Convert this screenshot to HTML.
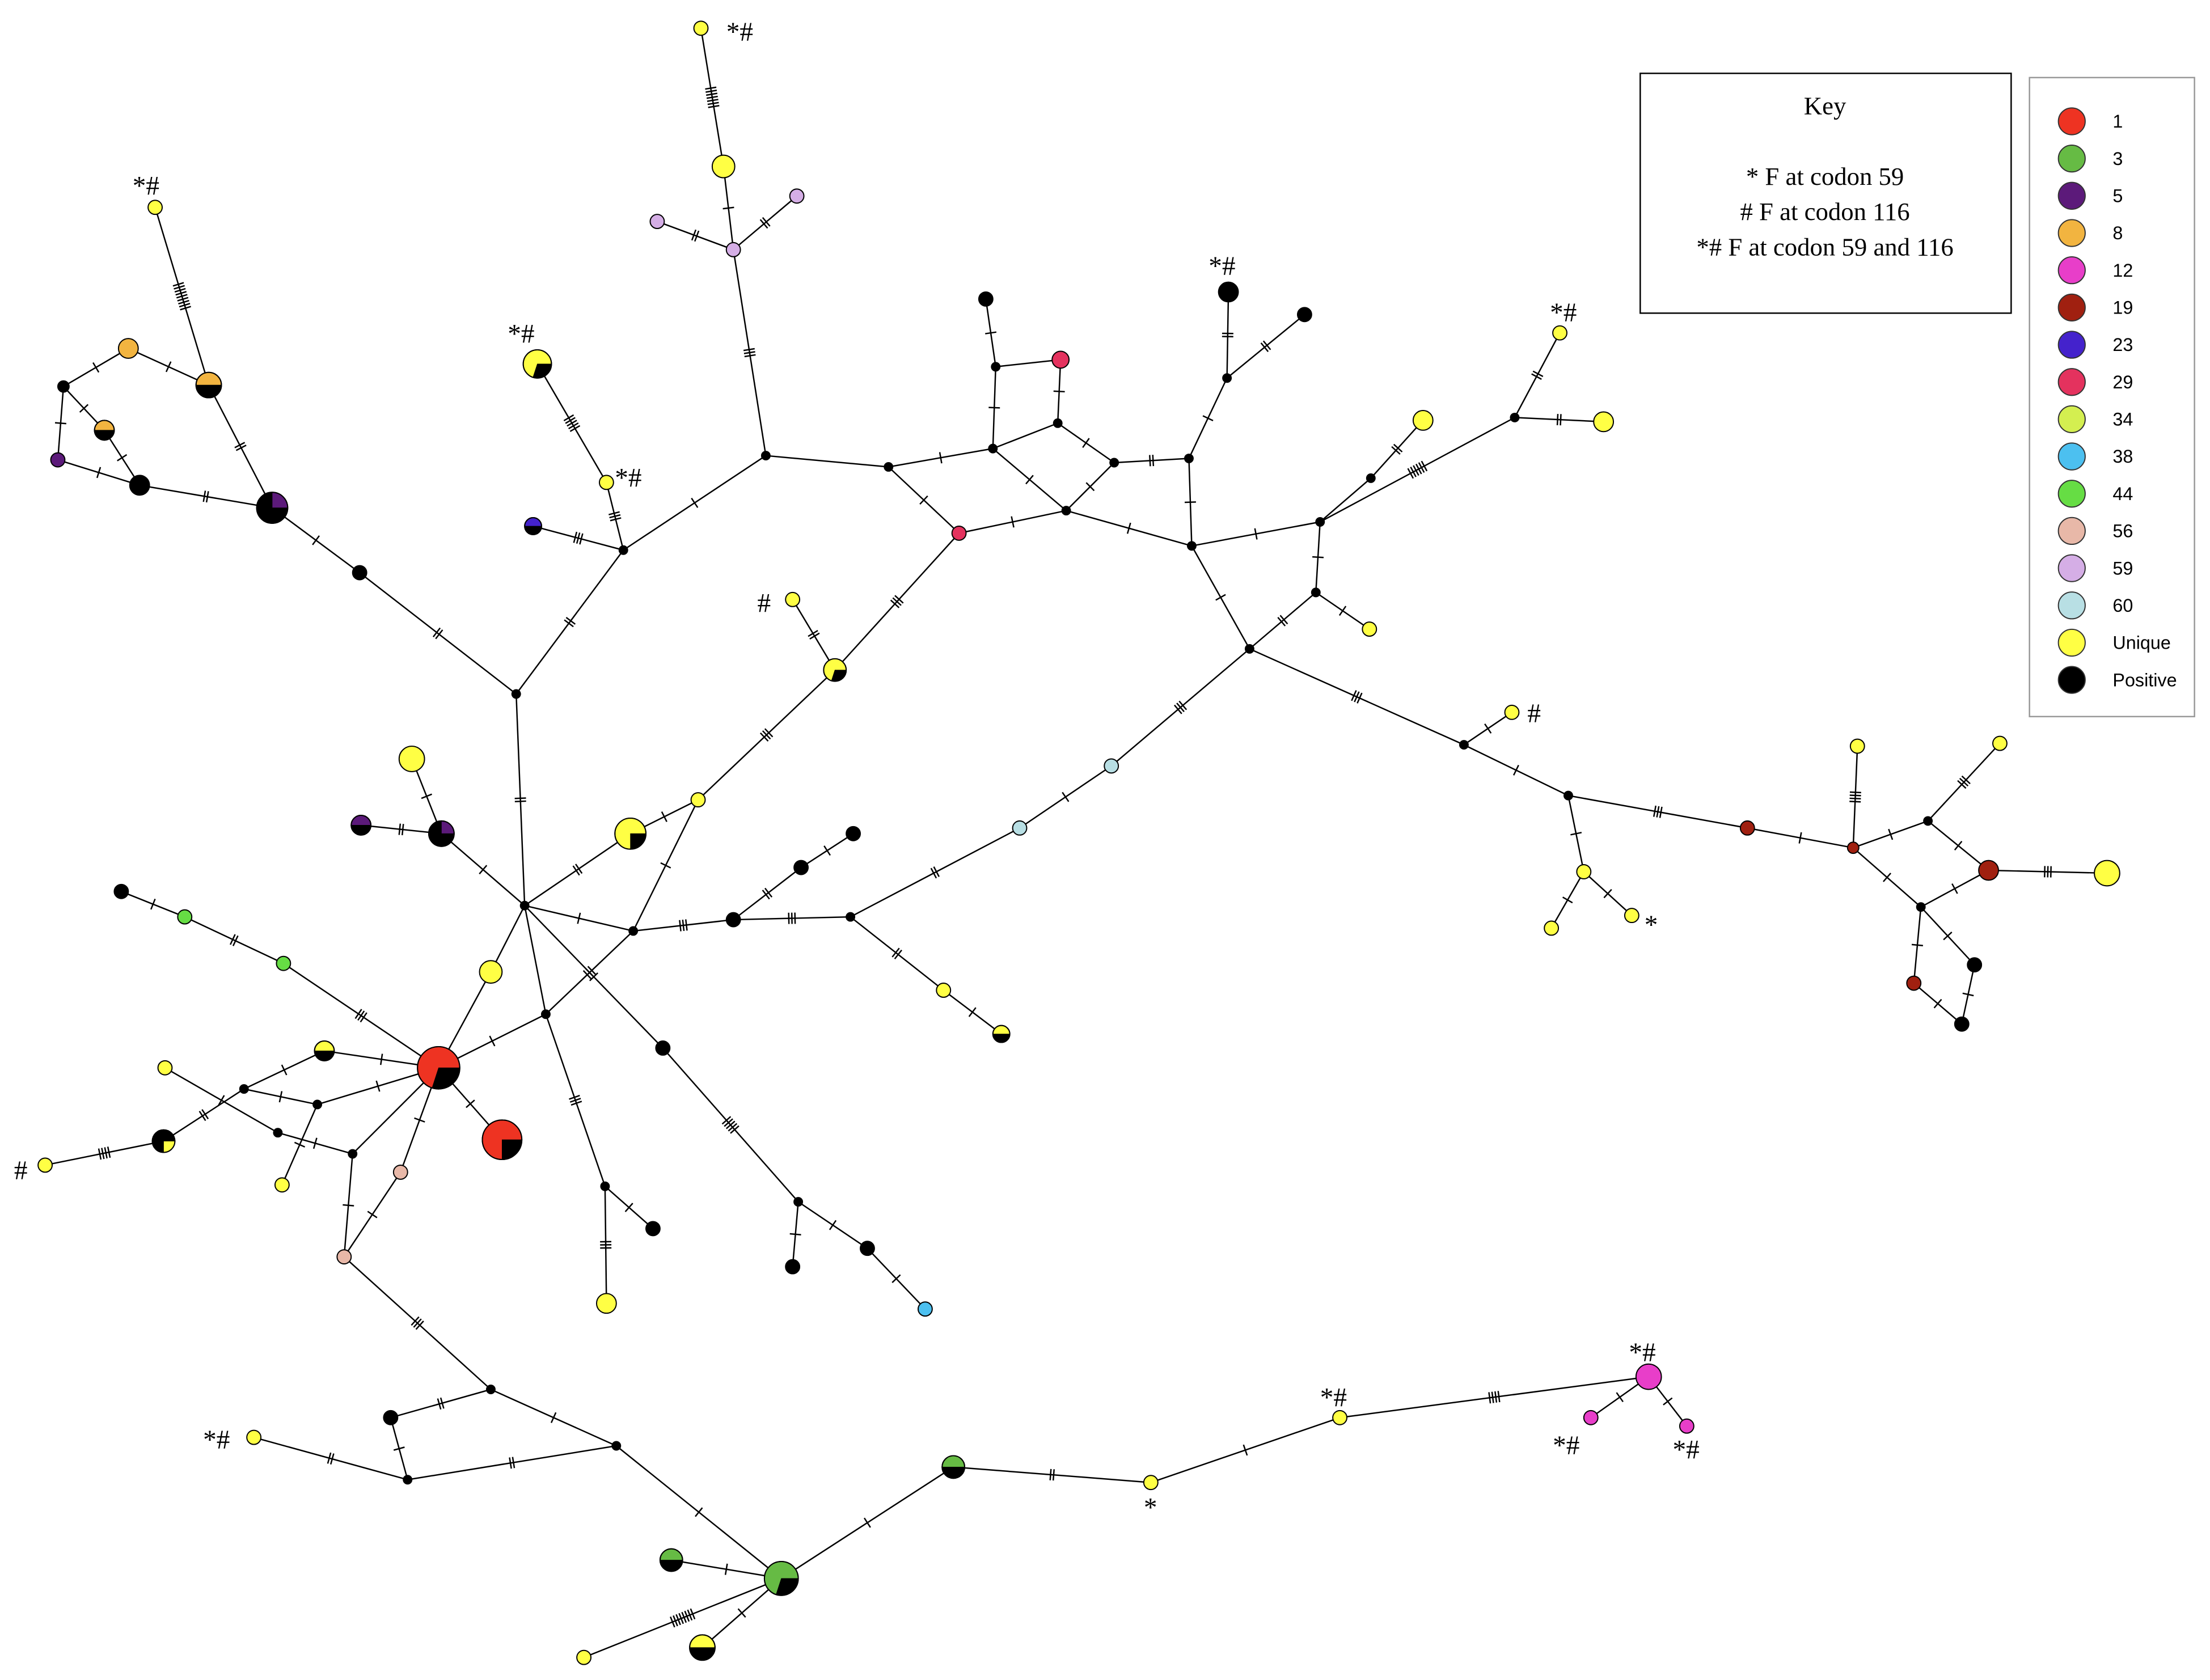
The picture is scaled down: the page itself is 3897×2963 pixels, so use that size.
<!DOCTYPE html>
<html><head><meta charset="utf-8"><style>
html,body{margin:0;padding:0;background:#fff;width:3897px;height:2963px;overflow:hidden}
svg{display:block}
</style></head><body>
<svg id="s" width="3897" height="2963" viewBox="0 0 1567 1191" preserveAspectRatio="none" xmlns="http://www.w3.org/2000/svg">
<g id="edges" stroke="#000" stroke-width="1" fill="none"></g>
<g id="nodes" stroke="#000" stroke-width="0.8"></g>
<g font-family="Liberation Serif, serif" font-size="19" fill="#000">
<text x="515" y="29">*#</text>
<text x="94" y="138">*#</text>
<text x="360" y="243">*#</text>
<text x="436" y="345">*#</text>
<text x="537" y="434">#</text>
<text x="857" y="195">*#</text>
<text x="1099" y="228">*#</text>
<text x="1083" y="512">#</text>
<text x="1166" y="662">*</text>
<text x="10" y="836">#</text>
<text x="144" y="1027">*#</text>
<text x="811" y="1075">*</text>
<text x="936" y="997">*#</text>
<text x="1155" y="965">*#</text>
<text x="1101" y="1031">*#</text>
<text x="1186" y="1034">*#</text>
</g>
<rect x="1163" y="52" width="263" height="170" fill="#fff" stroke="#000" stroke-width="1"/>
<g font-family="Liberation Serif, serif" font-size="18" text-anchor="middle" fill="#000">
<text x="1294" y="81">Key</text>
<text x="1294" y="131">* F at codon 59</text>
<text x="1294" y="156">&#35; F at codon 116</text>
<text x="1294" y="181">*# F at codon 59 and 116</text>
</g>
<rect x="1439" y="55" width="117" height="453" fill="#fff" stroke="#999" stroke-width="1"/>
<g id="legend" font-family="Liberation Sans, sans-serif" font-size="13"></g>
</svg>
<script>
var NS="http://www.w3.org/2000/svg";
var C={y:"#ffff44",k:"#000",r:"#ee3322",g:"#66bb44",p:"#5c1a7a",o:"#f2b440",m:"#e83ec9",b:"#a02010",bl:"#4422cc",c:"#e4325e",l:"#d4ef50",s:"#4cc0f0",lg:"#66dd44",pk:"#e8b8a8",lv:"#d5aee6",lb:"#b8dfe4",d:"#000"};
var N={
A:[497,20,5,"y"],B:[513,118,8,"y"],Cc:[520,177,5,"lv"],D:[466,157,5,"lv"],E:[565,139,5,"lv"],F:[543,323,3,"d"],
G:[630,331,3,"d"],H:[704,318,3,"d"],I:[680,378,5,"c"],J:[756,362,3,"d"],K:[750,300,3,"d"],L:[706,260,3,"d"],
M:[699,212,5,"k"],Nn:[752,255,6,"c"],O:[790,328,3,"d"],P:[843,325,3,"d"],Q:[845,387,3,"d"],R:[870,268,3,"d"],
S:[871,207,7,"k"],T:[925,223,5,"k"],U:[936,370,3,"d"],V:[972,339,3,"d"],W:[1009,298,7,"y"],X:[1074,296,3,"d"],
Y:[1106,236,5,"y"],Z:[1137,299,7,"y"],AA:[933,420,3,"d"],AB:[971,446,5,"y"],AC:[886,460,3,"d"],AD:[1038,528,3,"d"],
AE:[1072,505,5,"y"],AF:[1112,564,3,"d"],AG:[1123,618,5,"y"],AH:[1100,658,5,"y"],AI:[1157,649,5,"y"],AJ:[1239,587,5,"b"],
AK:[1314,601,4,"b"],AL:[1317,529,5,"y"],AM:[1367,582,3,"d"],AN:[1418,527,5,"y"],AO:[1410,617,7,"b"],AP:[1494,619,9,"y"],
AQ:[1362,643,3,"d"],AR:[1357,697,5,"b"],AS:[1400,684,5,"k"],AT:[1391,726,5,"k"],AU:[788,543,5,"lb"],AV:[723,587,5,"lb"],
AW:[603,650,3,"d"],AX:[669,702,5,"y"],AY:[710,733,6,"y",.5],AZ:[520,652,5,"k"],BA:[449,660,3,"d"],BB:[568,615,5,"k"],
BC:[605,591,5,"k"],BD:[372,642,3,"d"],BE:[366,492,3,"d"],BF:[442,390,3,"d"],BG:[430,342,5,"y"],BH:[381,258,10,"y",.3],
BI:[378,373,6,"bl",.5],BJ:[255,406,5,"k"],BK:[193,360,11,"p",.75],BL:[148,273,9,"o",.5],BM:[110,147,5,"y"],BN:[91,247,7,"o"],
BO:[45,274,4,"d"],BP:[74,305,7,"o",.5],BQ:[41,326,5,"p"],BR:[99,344,7,"k"],BS:[592,475,8,"y",.3],BT:[562,425,5,"y"],
BU:[495,567,5,"y"],BV:[447,591,11,"y",.25],BW:[292,538,9,"y"],BX:[313,591,9,"p",.75],BY:[256,585,7,"p",.5],BZ:[348,689,8,"y"],
CA:[387,719,3,"d"],CB:[311,757,15,"r",.3],CC:[356,808,14,"r",.25],CD:[470,743,5,"k"],CE:[566,852,3,"d"],CF:[615,885,5,"k"],
CG:[656,928,5,"s"],CH:[562,898,5,"k"],CI:[429,841,3,"d"],CJ:[463,871,5,"k"],CK:[430,924,7,"y"],CL:[86,632,5,"k"],
CM:[131,650,5,"lg"],CN:[201,683,5,"lg"],CO:[230,745,7,"y",.5],CP:[173,772,3,"d"],CQ:[117,757,5,"y"],CR:[116,809,8,"k",.25,"y"],
CS:[32,826,5,"y"],CT:[225,783,3,"d"],CU:[197,803,3,"d"],CV:[200,840,5,"y"],CW:[250,818,3,"d"],CX:[284,831,5,"pk"],
CY:[244,891,5,"pk"],CZ:[348,985,3,"d"],DA:[437,1025,3,"d"],DB:[277,1005,5,"k"],DC:[289,1049,3,"d"],DD:[180,1019,5,"y"],
DE:[554,1119,12,"g",.3],DF:[476,1106,8,"g",.5],DG:[498,1168,9,"y",.5],DH:[414,1175,5,"y"],DI:[676,1040,8,"g",.5],DJ:[816,1051,5,"y"],
DK:[950,1005,5,"y"],DL:[1169,976,9,"m"],DM:[1128,1005,5,"m"],DN:[1196,1011,5,"m"]};
var E=[["A","B",7],["B","Cc",1],["Cc","D",2],["Cc","E",2],["Cc","F",3],["F","G",0],["F","BF",1],["BF","BE",2],["BE","BD",2],
["BE","BJ",2],["BJ","BK",1],["BF","BG",3],["BG","BH",5],["BF","BI",3],["BK","BL",2],["BL","BM",9],["BK","BR",2],["BO","BN",1],["BN","BL",1],
["BO","BQ",1],["BQ","BR",1],["BO","BP",1],["BP","BR",1],["G","H",1],["G","I",1],["H","L",1],["L","M",1],["L","Nn",0],["Nn","K",1],
["H","K",0],["K","O",1],["H","J",1],["J","I",1],["J","O",1],["O","P",2],["P","R",1],["R","S",2],["R","T",2],["P","Q",1],
["J","Q",1],["Q","U",1],["Q","AC",1],["U","V",0],["V","W",2],["U","X",6],["X","Y",2],["X","Z",2],["U","AA",1],["AA","AB",1],
["AA","AC",2],["AC","AD",3],["AD","AE",1],["AD","AF",1],["AF","AG",1],["AG","AH",1],["AG","AI",1],["AF","AJ",3],["AJ","AK",1],
["AK","AL",4],["AK","AM",1],["AM","AN",3],["AM","AO",1],["AO","AP",3],["AK","AQ",1],["AQ","AO",1],["AQ","AR",1],["AQ","AS",1],
["AS","AT",1],["AR","AT",1],["AC","AU",3],["AU","AV",1],["AV","AW",2],["AW","AX",2],["AX","AY",1],["AW","AZ",3],["AZ","BA",3],
["AZ","BB",2],["BB","BC",1],["I","BS",3],["BS","BT",2],["BS","BU",3],["BU","BA",1],["BD","BV",2],["BV","BU",1],["BD","BA",1],
["BD","BX",1],["BX","BW",1],["BX","BY",2],["BD","CA",0],["BD","BZ",0],["CA","CB",1],["CA","CI",3],["CI","CJ",1],["CI","CK",3],
["BD","CD",1],["CD","CE",5],["CE","CF",1],["CF","CG",1],["CE","CH",1],["BA","CA",3],["BZ","CB",0],["CB","CC",1],["CB","CN",3],
["CN","CM",2],["CM","CL",1],["CB","CO",1],["CO","CP",1],["CP","CT",1],["CB","CT",1],["CP","CR",2],["CQ","CU",1],["CU","CW",1],
["CT","CV",1],["CB","CW",0],["CR","CS",4],["CB","CX",1],["CX","CY",1],["CW","CY",1],["CY","CZ",3],["CZ","DA",1],["CZ","DB",2],
["DB","DC",1],["DC","DD",2],["DC","DA",2],["DA","DE",1],["DE","DF",1],["DE","DG",1],["DE","DH",8],["DE","DI",1],["DI","DJ",2],
["DJ","DK",1],["DK","DL",4],["DL","DM",1],["DL","DN",1]];
var eg=document.getElementById("edges"),ng=document.getElementById("nodes");
function el(t,a,p){var e=document.createElementNS(NS,t);for(var k in a)e.setAttribute(k,a[k]);p.appendChild(e);return e;}
E.forEach(function(e){var a=N[e[0]],b=N[e[1]];el("line",{x1:a[0],y1:a[1],x2:b[0],y2:b[1]},eg);
var dx=b[0]-a[0],dy=b[1]-a[1],L=Math.hypot(dx,dy),ux=dx/L,uy=dy/L,mx=(a[0]+b[0])/2,my=(a[1]+b[1])/2,n=e[2];
for(var i=0;i<n;i++){var o=(i-(n-1)/2)*2.2,cx=mx+ux*o,cy=my+uy*o;el("line",{x1:cx-uy*4,y1:cy+ux*4,x2:cx+uy*4,y2:cy-ux*4},eg);}});
for(var k in N){var n=N[k],col=C[n[3]];
if(n[3]=="d"){el("circle",{cx:n[0],cy:n[1],r:n[2],fill:"#000"},ng);continue;}
el("circle",{cx:n[0],cy:n[1],r:n[2],fill:col},ng);
if(n[4]){var f=n[4],fc=n[5]?C[n[5]]:"#000";var a0=0,a1=f*2*Math.PI;var r=n[2];
var x0=n[0]+r*Math.sin(a0+Math.PI/2),y0=n[1]-r*Math.cos(a0+Math.PI/2);
var x1=n[0]+r*Math.sin(a1+Math.PI/2),y1=n[1]-r*Math.cos(a1+Math.PI/2);
el("path",{d:"M"+n[0]+","+n[1]+"L"+x0+","+y0+"A"+r+","+r+" 0 "+(f>.5?1:0)+" 1 "+x1+","+y1+"Z",fill:fc,"stroke-width":0.3},ng);
el("circle",{cx:n[0],cy:n[1],r:r,fill:"none"},ng);}}
var lg=document.getElementById("legend");
[["r","1"],["g","3"],["p","5"],["o","8"],["m","12"],["b","19"],["bl","23"],["c","29"],["l","34"],["s","38"],["lg","44"],["pk","56"],["lv","59"],["lb","60"],["y","Unique"],["k","Positive"]].forEach(function(it,i){
var y=86+i*26.4;el("circle",{cx:1469,cy:y,r:9.5,fill:C[it[0]],stroke:"#333","stroke-width":0.8},lg);
var t=el("text",{x:1498,y:y+4.5,fill:"#000"},lg);t.textContent=it[1];});
</script>
</body></html>
